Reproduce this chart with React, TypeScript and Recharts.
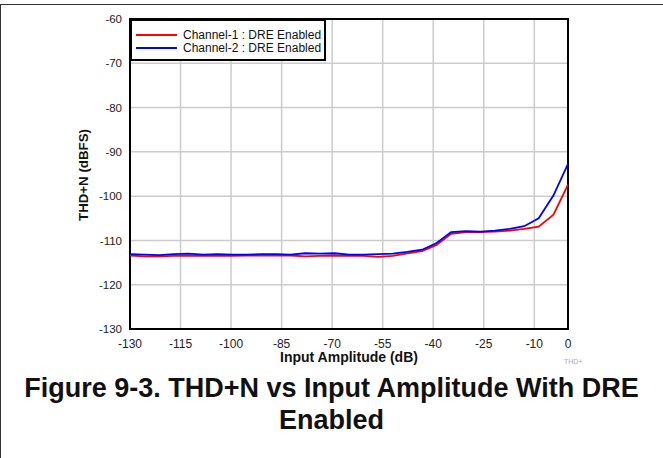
import { CartesianGrid, Line, LineChart, ReferenceArea, XAxis, YAxis } from "recharts";

// input amplitude (dB), one measurement every ~4.3 dB
const amplitude = [
  -130, -125.7, -121.3, -117, -112.7, -108.3, -104, -99.7, -95.3, -91, -86.7, -82.3, -78, -73.7, -69.3,
  -65, -60.7, -56.3, -52, -47.7, -43.3, -39, -34.7, -30.3, -26, -21.7, -17.3, -13, -8.7, -4.3, 0,
];

const channel1 = [
  -113.4, -113.6, -113.6, -113.5, -113.4, -113.5, -113.4, -113.5, -113.4, -113.4, -113.4, -113.4, -113.6,
  -113.5, -113.4, -113.5, -113.5, -113.7, -113.5, -112.9, -112.4, -111.0, -108.5, -108.1, -108.1, -108.0,
  -107.8, -107.4, -106.9, -104.2, -97.4,
];

const channel2 = [
  -113.1, -113.2, -113.3, -113.1, -113.0, -113.2, -113.1, -113.2, -113.2, -113.1, -113.1, -113.2, -112.9,
  -113.0, -112.9, -113.2, -113.2, -113.1, -113.0, -112.6, -112.1, -110.6, -108.1, -107.9, -108.0, -107.8,
  -107.4, -106.8, -105.0, -99.8, -92.7,
];

const seriesNames = ["Channel-1 : DRE Enabled", "Channel-2 : DRE Enabled"];
const seriesColors = ["#ff0000", "#0000ff"];

const xTicks = [-130, -115, -100, -85, -70, -55, -40, -25, -10, 0];
const yTicks = [-130, -120, -110, -100, -90, -80, -70, -60];

const data = amplitude.map((x, i) => ({ x, ch1: channel1[i], ch2: channel2[i] }));

const font = "'Liberation Sans', Arial, sans-serif";

export default function App() {
  return (
    <div
      style={{
        position: "absolute",
        left: 0,
        top: 0,
        width: 663,
        height: 458,
        background: "#fff",
        fontFamily: font,
        overflow: "hidden",
      }}
    >
      <div
        style={{
          position: "absolute",
          left: 0,
          top: 4,
          width: 663,
          height: 454,
          borderTop: "1px solid #333",
          borderLeft: "1px solid #333",
          boxSizing: "border-box",
        }}
      />
      <LineChart
        width={663}
        height={458}
        data={data}
        margin={{ top: 19, right: 95, left: 70, bottom: 99 }}
        style={{ position: "absolute", left: 0, top: 0 }}
      >
        <CartesianGrid stroke="#cccccc" strokeWidth={1.5} />
        <XAxis
          dataKey="x"
          type="number"
          domain={[-130, 0]}
          ticks={xTicks}
          interval={0}
          axisLine={false}
          tickLine={false}
          tickMargin={4}
          height={30}
          tick={{ fill: "#222", fontSize: 12, fontFamily: font }}
        />
        <YAxis
          type="number"
          domain={[-130, -60]}
          ticks={yTicks}
          interval={0}
          axisLine={false}
          tickLine={false}
          tickMargin={2}
          width={60}
          tick={{ fill: "#222", fontSize: 11.5, fontFamily: font }}
        />
        <Line
          type="linear"
          dataKey="ch1"
          stroke={seriesColors[0]}
          strokeWidth={1.8}
          dot={false}
          isAnimationActive={false}
        />
        <Line
          type="linear"
          dataKey="ch2"
          stroke={seriesColors[1]}
          strokeWidth={1.8}
          dot={false}
          isAnimationActive={false}
        />
        <ReferenceArea x1={-130} x2={0} y1={-130} y2={-60} fill="none" stroke="#000" strokeWidth={2} />
      </LineChart>

      {/* legend box in the top-left corner of the plot */}
      <div
        style={{
          position: "absolute",
          left: 130,
          top: 19,
          width: 196,
          height: 42,
          border: "2px solid #000",
          boxSizing: "border-box",
          background: "#fff",
        }}
      >
        {seriesNames.map((name, i) => (
          <div
            key={name}
            style={{
              position: "absolute",
              left: 4,
              top: 7 + i * 13,
              height: 13,
              display: "flex",
              alignItems: "center",
              fontSize: 12,
              color: "#111",
              whiteSpace: "nowrap",
            }}
          >
            <span style={{ display: "inline-block", width: 41, height: 2, background: seriesColors[i], marginRight: 6 }} />
            {name}
          </div>
        ))}
      </div>

      <div
        style={{
          position: "absolute",
          left: 83,
          top: 175,
          transform: "translate(-50%, -50%) rotate(-90deg)",
          fontSize: 13.3,
          fontWeight: "bold",
          color: "#111",
          whiteSpace: "nowrap",
        }}
      >
        THD+N (dBFS)
      </div>
      <div
        style={{
          position: "absolute",
          left: 349,
          top: 357,
          transform: "translate(-50%, -50%)",
          fontSize: 14,
          fontWeight: "bold",
          color: "#111",
          whiteSpace: "nowrap",
        }}
      >
        Input Amplitude (dB)
      </div>
      <div style={{ position: "absolute", left: 564, top: 358, fontSize: 7, color: "#aaa" }}>THD+</div>
      <div
        style={{
          position: "absolute",
          left: 0,
          top: 372,
          width: 663,
          textAlign: "center",
          fontSize: 27,
          lineHeight: "32px",
          fontWeight: "bold",
          color: "#111",
          whiteSpace: "nowrap",
        }}
      >
        Figure 9-3. THD+N vs Input Amplitude With DRE
        <br />
        Enabled
      </div>
    </div>
  );
}
